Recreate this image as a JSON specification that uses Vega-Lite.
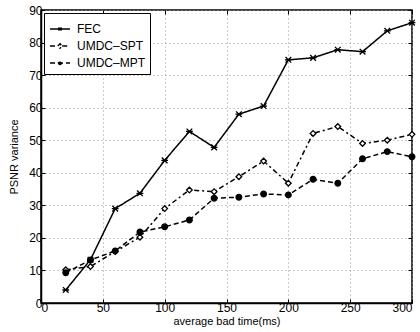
{
  "$schema": "https://vega.github.io/schema/vega-lite/v6.json",
  "width": 371,
  "height": 293,
  "autosize": {"type": "none"},
  "padding": {"left": 41, "top": 10, "right": 8, "bottom": 29},
  "background": "white",
  "config": {
    "font": "Liberation Sans",
    "view": {"stroke": "black", "strokeWidth": 1.5},
    "axis": {
      "labelFont": "Liberation Sans",
      "titleFont": "Liberation Sans",
      "labelFontSize": 12,
      "titleFontSize": 11,
      "titleFontWeight": "normal",
      "labelColor": "black",
      "titleColor": "black",
      "domainColor": "black",
      "domainWidth": 1.5,
      "tickColor": "black",
      "tickSize": -4,
      "gridColor": "#999999",
      "gridDash": [1, 3],
      "gridWidth": 1,
      "gridOpacity": 1
    }
  },
  "data": {
    "values": [
      {"t": 20, "v": 4, "s": "FEC"},
      {"t": 40, "v": 13.3, "s": "FEC"},
      {"t": 60, "v": 29, "s": "FEC"},
      {"t": 80, "v": 33.7, "s": "FEC"},
      {"t": 100, "v": 43.8, "s": "FEC"},
      {"t": 120, "v": 52.7, "s": "FEC"},
      {"t": 140, "v": 47.8, "s": "FEC"},
      {"t": 160, "v": 58, "s": "FEC"},
      {"t": 180, "v": 60.5, "s": "FEC"},
      {"t": 200, "v": 74.7, "s": "FEC"},
      {"t": 220, "v": 75.3, "s": "FEC"},
      {"t": 240, "v": 77.8, "s": "FEC"},
      {"t": 260, "v": 77.2, "s": "FEC"},
      {"t": 280, "v": 83.6, "s": "FEC"},
      {"t": 300, "v": 86.1, "s": "FEC"},
      {"t": 20, "v": 10.2, "s": "UMDC\u2013SPT"},
      {"t": 40, "v": 11.2, "s": "UMDC\u2013SPT"},
      {"t": 60, "v": 15.8, "s": "UMDC\u2013SPT"},
      {"t": 80, "v": 20.2, "s": "UMDC\u2013SPT"},
      {"t": 100, "v": 29, "s": "UMDC\u2013SPT"},
      {"t": 120, "v": 34.7, "s": "UMDC\u2013SPT"},
      {"t": 140, "v": 34.2, "s": "UMDC\u2013SPT"},
      {"t": 160, "v": 38.8, "s": "UMDC\u2013SPT"},
      {"t": 180, "v": 43.6, "s": "UMDC\u2013SPT"},
      {"t": 200, "v": 36.8, "s": "UMDC\u2013SPT"},
      {"t": 220, "v": 52.1, "s": "UMDC\u2013SPT"},
      {"t": 240, "v": 54.2, "s": "UMDC\u2013SPT"},
      {"t": 260, "v": 49, "s": "UMDC\u2013SPT"},
      {"t": 280, "v": 50, "s": "UMDC\u2013SPT"},
      {"t": 300, "v": 51.8, "s": "UMDC\u2013SPT"},
      {"t": 20, "v": 9.3, "s": "UMDC\u2013MPT"},
      {"t": 40, "v": 13.2, "s": "UMDC\u2013MPT"},
      {"t": 60, "v": 16, "s": "UMDC\u2013MPT"},
      {"t": 80, "v": 21.8, "s": "UMDC\u2013MPT"},
      {"t": 100, "v": 23.4, "s": "UMDC\u2013MPT"},
      {"t": 120, "v": 25.5, "s": "UMDC\u2013MPT"},
      {"t": 140, "v": 32.2, "s": "UMDC\u2013MPT"},
      {"t": 160, "v": 32.5, "s": "UMDC\u2013MPT"},
      {"t": 180, "v": 33.5, "s": "UMDC\u2013MPT"},
      {"t": 200, "v": 33.2, "s": "UMDC\u2013MPT"},
      {"t": 220, "v": 38, "s": "UMDC\u2013MPT"},
      {"t": 240, "v": 36.8, "s": "UMDC\u2013MPT"},
      {"t": 260, "v": 44.3, "s": "UMDC\u2013MPT"},
      {"t": 280, "v": 46.5, "s": "UMDC\u2013MPT"},
      {"t": 300, "v": 44.9, "s": "UMDC\u2013MPT"}
    ]
  },
  "resolve": {"axis": {"x": "independent", "y": "independent"}},
  "layer": [
    {
      "mark": {"type": "line", "color": "black", "strokeWidth": 1.5},
      "encoding": {
        "x": {
          "field": "t", "type": "quantitative",
          "scale": {"domain": [0, 300], "nice": false},
          "axis": {"values": [0, 50, 100, 150, 200, 250, 300], "title": "average bad time(ms)", "titlePadding": 2, "labelPadding": 3}
        },
        "y": {
          "field": "v", "type": "quantitative",
          "scale": {"domain": [0, 90], "nice": false},
          "axis": {"values": [0, 10, 20, 30, 40, 50, 60, 70, 80, 90], "title": "PSNR variance", "titlePadding": 9, "labelPadding": 3}
        },
        "strokeDash": {
          "field": "s", "type": "nominal",
          "scale": {"domain": ["FEC", "UMDC\u2013SPT", "UMDC\u2013MPT"], "range": [[1, 0], [5, 3, 2, 3], [5, 3]]},
          "legend": {
            "title": null,
            "orient": "top-left",
            "offset": 3,
            "padding": 5,
            "strokeColor": "black",
            "fillColor": "white",
            "symbolSize": 400,
            "symbolStrokeColor": "black",
            "symbolStrokeWidth": 1.5,
            "labelFontSize": 12,
            "labelColor": "black",
            "labelOffset": 6,
            "rowPadding": -1.5,
            "encode": {
              "symbols": {
                "update": {
                  "shape": {"signal": "datum.value === 'FEC' ? 'M-1,0L1,0M-0.15,-0.15L0.15,0.15M-0.15,0.15L0.15,-0.15' : datum.value === 'UMDC\u2013SPT' ? 'M-1,0L-0.22,0M0.22,0L1,0M-0.22,0L0,-0.22L0.22,0L0,0.22Z' : 'M-1,0L1,0M0.15,0A0.15,0.15 0 1 1 -0.15,0A0.15,0.15 0 1 1 0.15,0Z'"},
                  "fill": {"signal": "datum.value === 'UMDC\u2013SPT' ? 'white' : 'black'"},
                  "fillOpacity": {"value": 1},
                  "stroke": {"value": "black"},
                  "strokeWidth": {"value": 1.5},
                  "strokeOpacity": {"value": 1},
                  "opacity": {"value": 1}
                }
              }
            }
          }
        }
      }
    },
    {
      "mark": {"type": "point", "stroke": "black", "strokeWidth": 1.3, "opacity": 1, "size": 32},
      "encoding": {
        "x": {
          "field": "t", "type": "quantitative",
          "axis": {"orient": "top", "values": [0, 50, 100, 150, 200, 250, 300], "title": null, "labels": false, "grid": false, "domain": false}
        },
        "y": {
          "field": "v", "type": "quantitative",
          "axis": {"orient": "right", "values": [0, 10, 20, 30, 40, 50, 60, 70, 80, 90], "title": null, "labels": false, "grid": false, "domain": false}
        },
        "shape": {
          "condition": [
            {"test": "datum.s === 'FEC'", "value": "M-1,-1L1,1M-1,1L1,-1M-1.2,0L1.2,0"},
            {"test": "datum.s === 'UMDC\u2013SPT'", "value": "diamond"}
          ],
          "value": "circle"
        },
        "fill": {
          "condition": {"test": "datum.s === 'UMDC\u2013SPT'", "value": "white"},
          "value": "black"
        }
      }
    }
  ]
}
